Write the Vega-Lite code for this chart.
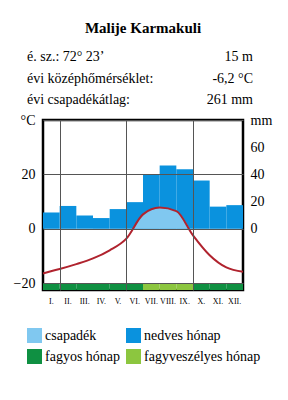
{
  "$schema": "https://vega.github.io/schema/vega-lite/v6.json",
  "width": 200,
  "height": 170,
  "autosize": {"type": "none"},
  "padding": {"top": 120, "left": 43, "right": 45, "bottom": 110},
  "background": "white",
  "title": {"text": "Malije Karmakuli", "font": "Liberation Serif", "fontSize": 15, "fontWeight": "bold", "anchor": "middle", "offset": 14, "color": "black"},
  "config": {
    "view": {"stroke": "black", "strokeWidth": 2.5},
    "font": "Liberation Serif",
    "axis": {"labelFont": "Liberation Serif", "labelColor": "black", "ticks": false, "domain": false},
    "legend": {"orient": "none", "legendX": -16, "legendY": 208, "columns": 2, "direction": "horizontal", "title": null, "symbolType": "square", "symbolSize": 225, "symbolStrokeWidth": 0, "symbolOpacity": 1, "labelFont": "Liberation Serif", "labelFontSize": 14, "labelColor": "black", "columnPadding": 5, "rowPadding": 6, "labelOffset": 3}
  },
  "datasets": {
    "months": [
      {"month": "I.", "p": 12, "status": "fagyos hónap"},
      {"month": "II.", "p": 16.8, "status": "fagyos hónap"},
      {"month": "III.", "p": 9.8, "status": "fagyos hónap"},
      {"month": "IV.", "p": 7.9, "status": "fagyos hónap"},
      {"month": "V.", "p": 14.5, "status": "fagyos hónap"},
      {"month": "VI.", "p": 19.6, "status": "fagyos hónap"},
      {"month": "VII.", "p": 39.8, "status": "fagyveszélyes hónap"},
      {"month": "VIII.", "p": 46.5, "status": "fagyveszélyes hónap"},
      {"month": "IX.", "p": 43.8, "status": "fagyveszélyes hónap"},
      {"month": "X.", "p": 35.5, "status": "fagyos hónap"},
      {"month": "XI.", "p": 16.3, "status": "fagyos hónap"},
      {"month": "XII.", "p": 17.4, "status": "fagyos hónap"}
    ],
    "temp": [
      {"m": 0, "t": -16.4},
      {"m": 1, "t": -14.8},
      {"m": 2, "t": -13.0},
      {"m": 3, "t": -10.9},
      {"m": 4, "t": -7.9},
      {"m": 5, "t": -3.6},
      {"m": 6, "t": 5.3},
      {"m": 7, "t": 7.8},
      {"m": 8, "t": 6.5},
      {"m": 9, "t": -2.4},
      {"m": 10, "t": -9.7},
      {"m": 11, "t": -14.2},
      {"m": 12, "t": -15.8}
    ],
    "warm": [
      {"m": 5.45, "t": 0},
      {"m": 6, "t": 5.3},
      {"m": 7, "t": 7.8},
      {"m": 8, "t": 6.5},
      {"m": 8.8, "t": 0}
    ],
    "header": [
      {"row": 1, "side": "bal", "label": "é. sz.: 72° 23’"},
      {"row": 1, "side": "jobb", "label": "15 m"},
      {"row": 2, "side": "bal", "label": "évi középhőmérséklet:"},
      {"row": 2, "side": "jobb", "label": "-6,2 °C"},
      {"row": 3, "side": "bal", "label": "évi csapadékátlag:"},
      {"row": 3, "side": "jobb", "label": "261 mm"}
    ]
  },
  "layer": [
    {
      "data": {"name": "months"},
      "layer": [
        {
          "mark": {"type": "bar"},
          "encoding": {
            "x": {"field": "month", "type": "ordinal", "sort": null,
              "scale": {"paddingInner": 0, "paddingOuter": 0},
              "axis": {"orient": "bottom", "title": null, "labelAngle": 0, "labelFontSize": 8, "labelPadding": 7, "grid": false}},
            "y": {"field": "p", "type": "quantitative",
              "scale": {"domain": [-45, 80], "nice": false, "zero": false},
              "axis": {"orient": "right", "title": null, "values": [0, 20, 40, 60, 80], "labelExpr": "datum.value == 80 ? 'mm' : datum.label", "labelFontSize": 14, "labelPadding": 7, "grid": false, "labelBaseline": "middle"}},
            "y2": {"datum": 0},
            "color": {"datum": "nedves hónap", "type": "nominal", "title": null,
              "scale": {"domain": ["csapadék", "nedves hónap", "fagyos hónap", "fagyveszélyes hónap"], "range": ["#80C8F0", "#0A92DE", "#0F9042", "#8CC63F"]}}
          }
        },
        {
          "mark": {"type": "bar"},
          "encoding": {
            "x": {"field": "month", "type": "ordinal", "sort": null},
            "y": {"datum": -40},
            "y2": {"datum": -45},
            "color": {"field": "status", "type": "nominal", "title": null}
          }
        }
      ]
    },
    {
      "layer": [
        {
          "data": {"name": "warm"},
          "mark": {"type": "area", "interpolate": "monotone"},
          "encoding": {
            "x": {"field": "m", "type": "quantitative",
              "scale": {"domain": [0, 12], "nice": false, "zero": false},
              "axis": {"orient": "top", "title": null, "values": [1, 2, 3, 4, 5, 6, 7, 8, 9, 10, 11], "labels": false, "grid": true, "gridColor": "#555555", "gridWidth": 1, "gridOpacity": 1, "zindex": 1}},
            "y": {"field": "t", "type": "quantitative",
              "scale": {"domain": [-22.5, 40], "nice": false, "zero": false},
              "axis": {"orient": "left", "title": null, "values": [-20, -10, 0, 10, 20, 30, 40], "labelExpr": "datum.value == 40 ? '°C' : datum.value == 30 ? '' : datum.label", "labelFontSize": 14, "labelPadding": 8, "grid": true, "gridColor": "#555555", "gridWidth": 1, "gridOpacity": 1, "zindex": 1, "labelBaseline": "middle"}},
            "y2": {"datum": 0},
            "color": {"datum": "csapadék", "type": "nominal", "title": null}
          }
        },
        {
          "data": {"name": "temp"},
          "mark": {"type": "line", "interpolate": "monotone", "color": "#B0232E", "strokeWidth": 2},
          "encoding": {
            "x": {"field": "m", "type": "quantitative"},
            "y": {"field": "t", "type": "quantitative"}
          }
        }
      ]
    },
    {
      "data": {"name": "header"},
      "encoding": {
        "x": {"field": "side", "type": "nominal", "scale": {"type": "point", "domain": ["bal", "jobb"], "range": [-16, 210], "padding": 0}, "axis": null},
        "y": {"field": "row", "type": "ordinal", "scale": {"type": "point", "domain": [1, 2, 3], "range": [-63, -20], "padding": 0}, "axis": null},
        "text": {"field": "label"}
      },
      "layer": [
        {"transform": [{"filter": "datum.side === 'bal'"}], "mark": {"type": "text", "align": "left", "baseline": "middle", "fontSize": 14, "font": "Liberation Serif", "color": "black"}},
        {"transform": [{"filter": "datum.side === 'jobb'"}], "mark": {"type": "text", "align": "right", "baseline": "middle", "fontSize": 14, "font": "Liberation Serif", "color": "black"}}
      ]
    }
  ],
  "resolve": {"scale": {"x": "independent", "y": "independent"}}
}
